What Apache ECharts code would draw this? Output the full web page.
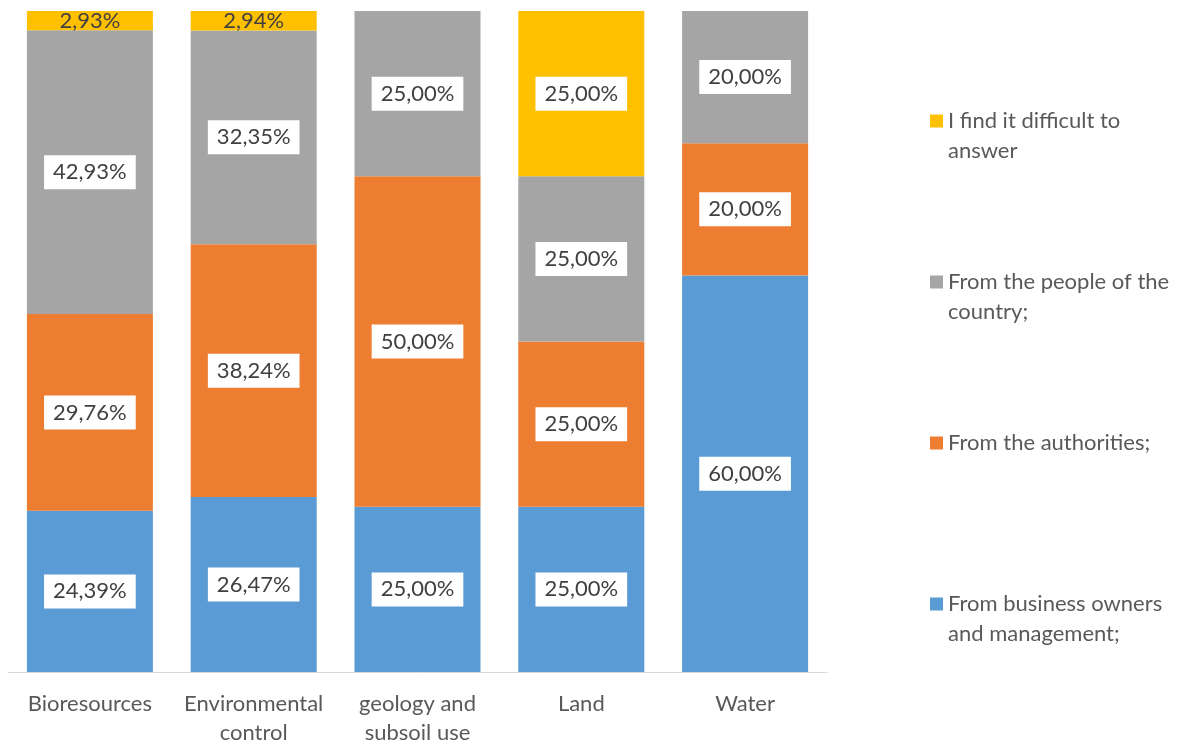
<!DOCTYPE html>
<html>
<head>
<meta charset="utf-8">
<script src="https://cdn.jsdelivr.net/npm/echarts@6/dist/echarts.min.js"></script>
<style>
  html, body { margin: 0; padding: 0; background: #fff; overflow: hidden; }
  #chart { width: 1182px; height: 743px; }
</style>
</head>
<body>
<div id="chart"></div>
<script>
// Categories (axis tick labels, wrapped as shown under the bars)
const categories = ['Bioresources', 'Environmental\ncontrol', 'geology and\nsubsoil use', 'Land', 'Water'];

// Share of answers per category, in percent
const businessOwners = [24.39, 26.47, 25.00, 25.00, 60.00];
const authorities    = [29.76, 38.24, 50.00, 25.00, 20.00];
const people         = [42.93, 32.35, 25.00, 25.00, 20.00];
const difficult      = [2.93, 2.94, 0, 25.00, 0];

const seriesNames = [
  'From business owners\nand management;',
  'From the authorities;',
  'From the people of the\ncountry;',
  'I find it difficult to\nanswer'
];
const seriesValues = [businessOwners, authorities, people, difficult];
const colors = ['#5B9BD5', '#ED7D31', '#A5A5A5', '#FFC000'];

const FONT = 'Lato';
const FONT_SIZE = 22;
const TEXT_COLOR = '#595959';

function fmt(v) {
  return v.toFixed(2).replace('.', ',') + '%';
}

const boxLabel = {
  show: true,
  position: 'inside',
  fontFamily: FONT,
  fontSize: FONT_SIZE,
  color: '#404040',
  backgroundColor: '#ffffff',
  padding: [5, 9, 5, 9],
  lineHeight: 24
};

const series = seriesValues.map((vals, si) => ({
  name: seriesNames[si],
  type: 'bar',
  stack: 'total',
  barWidth: 126,
  itemStyle: { color: colors[si] },
  data: vals.map(v => {
    const item = { value: v };
    if (v === 0) {
      item.label = { show: false };
    } else if (v < 5) {
      // thin segment: plain text without the white box
      item.label = { backgroundColor: 'transparent', padding: 0 };
    }
    return item;
  }),
  label: Object.assign({}, boxLabel, {
    formatter: p => fmt(p.value)
  })
}));

// Square marker sitting beside the first line of a two-line legend entry
// (the extra move-to points stretch its box to the full entry height)
const TOP_SQUARE_ICON = 'path://M0,0 M0,8.5 L13,8.5 L13,21.5 L0,21.5 Z M13,60';

// One legend block per series, stacked top-down from the last series
const legendTops = [589, 428, 267, 106];
const legends = seriesNames.map((name, i) => {
  const twoLines = name.indexOf('\n') >= 0;
  return {
    data: [name],
    orient: 'vertical',
    left: 930,
    top: legendTops[i],
    padding: 0,
    itemWidth: 13,
    itemHeight: twoLines ? 60 : 13,
    itemGap: 0,
    icon: twoLines ? TOP_SQUARE_ICON : 'rect',
    selectedMode: false,
    textStyle: {
      fontFamily: FONT,
      fontSize: FONT_SIZE,
      color: TEXT_COLOR,
      lineHeight: 30
    }
  };
});

const chart = echarts.init(document.getElementById('chart'));
chart.setOption({
  animation: false,
  color: colors,
  legend: legends,
  grid: {
    left: 8, width: 819, top: 11, height: 661,
    containLabel: false,
    outerBoundsMode: 'none'
  },
  xAxis: {
    type: 'category',
    data: categories,
    axisLine: { show: true, lineStyle: { color: '#d9d9d9', width: 1 } },
    axisTick: { show: false },
    axisLabel: {
      margin: 17,
      fontFamily: FONT,
      fontSize: FONT_SIZE,
      color: TEXT_COLOR,
      lineHeight: 29,
      interval: 0
    }
  },
  yAxis: {
    type: 'value',
    min: 0,
    max: 100,
    show: false,
    splitLine: { show: false }
  },
  series: series
});
</script>
</body>
</html>
